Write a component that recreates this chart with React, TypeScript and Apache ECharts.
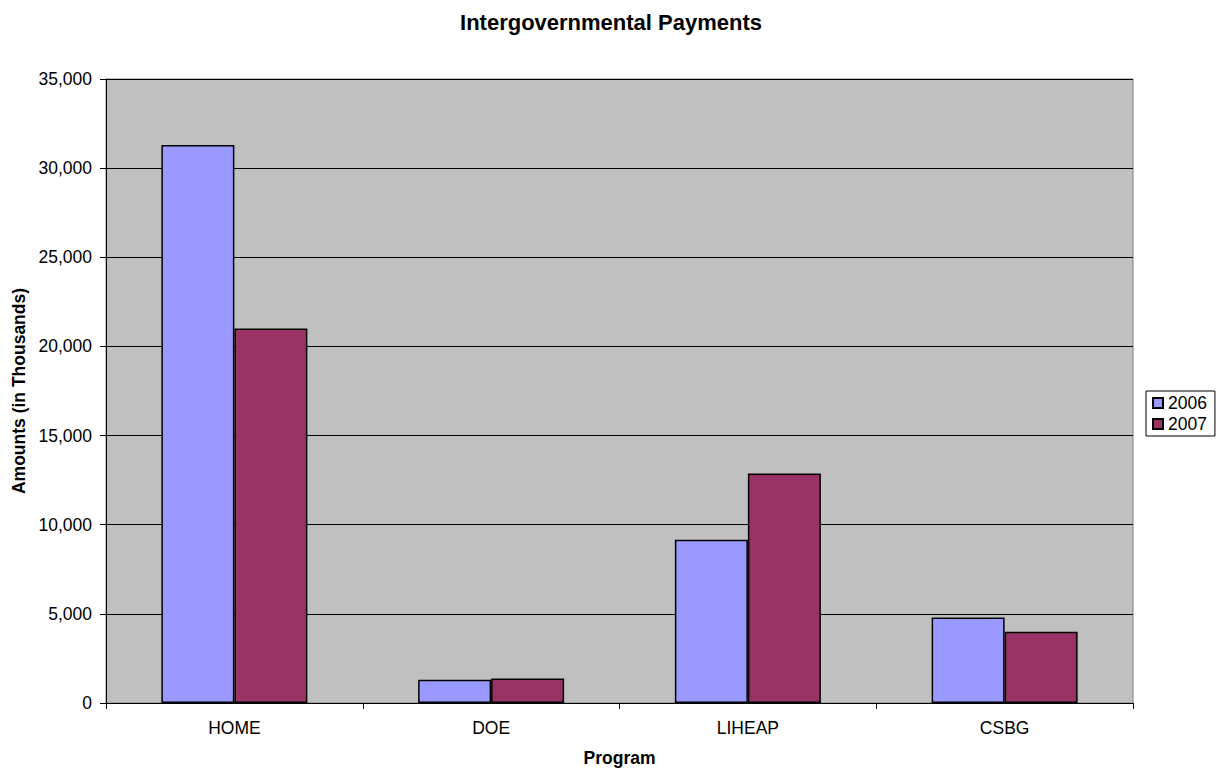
import React, { useEffect, useRef } from "react";
import * as echarts from "echarts";

const categories = ["HOME", "DOE", "LIHEAP", "CSBG"];
const values2006 = [31300, 1300, 9150, 4800];
const values2007 = [21000, 1370, 12870, 4000];
const seriesNames = ["2006", "2007"];

const FONT = "'Liberation Sans', Arial, sans-serif";
const FS = 17.5;

export default function App() {
  const ref = useRef<HTMLDivElement>(null);
  useEffect(() => {
    if (!ref.current) return;
    const chart = echarts.init(ref.current, undefined, { renderer: "svg" });
    chart.setOption({
      animation: false,
      backgroundColor: "#ffffff",
      textStyle: { fontFamily: FONT },
      title: {
        text: "Intergovernmental Payments",
        left: "center",
        top: 6,
        textStyle: { fontFamily: FONT, fontSize: 22, fontWeight: "bold", color: "#000" },
      },
      legend: {
        orient: "vertical",
        left: 1146,
        top: 391,
        data: seriesNames,
        borderColor: "#000",
        borderWidth: 1,
        padding: [3, 8, 3, 6],
        itemGap: 3,
        itemWidth: 10,
        itemHeight: 10,
        icon: "rect",
        textStyle: { fontFamily: FONT, fontSize: FS, color: "#000" },
      },
      grid: {
        left: 106,
        right: 89,
        top: 79,
        bottom: 69,
        show: true,
        backgroundColor: "#c0c0c0",
        borderColor: "#808080",
        borderWidth: 1,
      },
      xAxis: {
        type: "category",
        data: categories,
        name: "Program",
        nameLocation: "middle",
        nameGap: 46,
        nameTextStyle: { fontFamily: FONT, fontSize: FS, fontWeight: "bold", color: "#000" },
        axisLine: { lineStyle: { color: "#000", width: 1 } },
        axisTick: { show: true, length: 6, lineStyle: { color: "#000" } },
        axisLabel: { fontFamily: FONT, fontSize: FS, color: "#000", margin: 16 },
      },
      yAxis: {
        type: "value",
        min: 0,
        max: 35000,
        interval: 5000,
        name: "Amounts (in Thousands)",
        nameLocation: "middle",
        nameGap: 77,
        nameTextStyle: { fontFamily: FONT, fontSize: FS, fontWeight: "bold", color: "#000" },
        axisLine: { show: true, lineStyle: { color: "#000", width: 1 } },
        axisTick: { show: true, length: 6, lineStyle: { color: "#000" } },
        axisLabel: {
          fontFamily: FONT,
          fontSize: FS,
          color: "#000",
          margin: 14,
          formatter: (v: number) => v.toLocaleString("en-US"),
        },
        splitLine: { show: true, lineStyle: { color: "#000", width: 1 } },
      },
      series: [
        {
          name: seriesNames[0],
          type: "bar",
          data: values2006,
          barWidth: 73,
          barGap: "0%",
          itemStyle: { color: "#9999ff", borderColor: "#000", borderWidth: 1.5 },
        },
        {
          name: seriesNames[1],
          type: "bar",
          data: values2007,
          barWidth: 73,
          barGap: "0%",
          itemStyle: { color: "#993366", borderColor: "#000", borderWidth: 1.5 },
        },
      ],
    });
    return () => chart.dispose();
  }, []);
  return <div ref={ref} style={{ width: 1222, height: 772, position: "absolute", left: 0, top: 0 }} />;
}
